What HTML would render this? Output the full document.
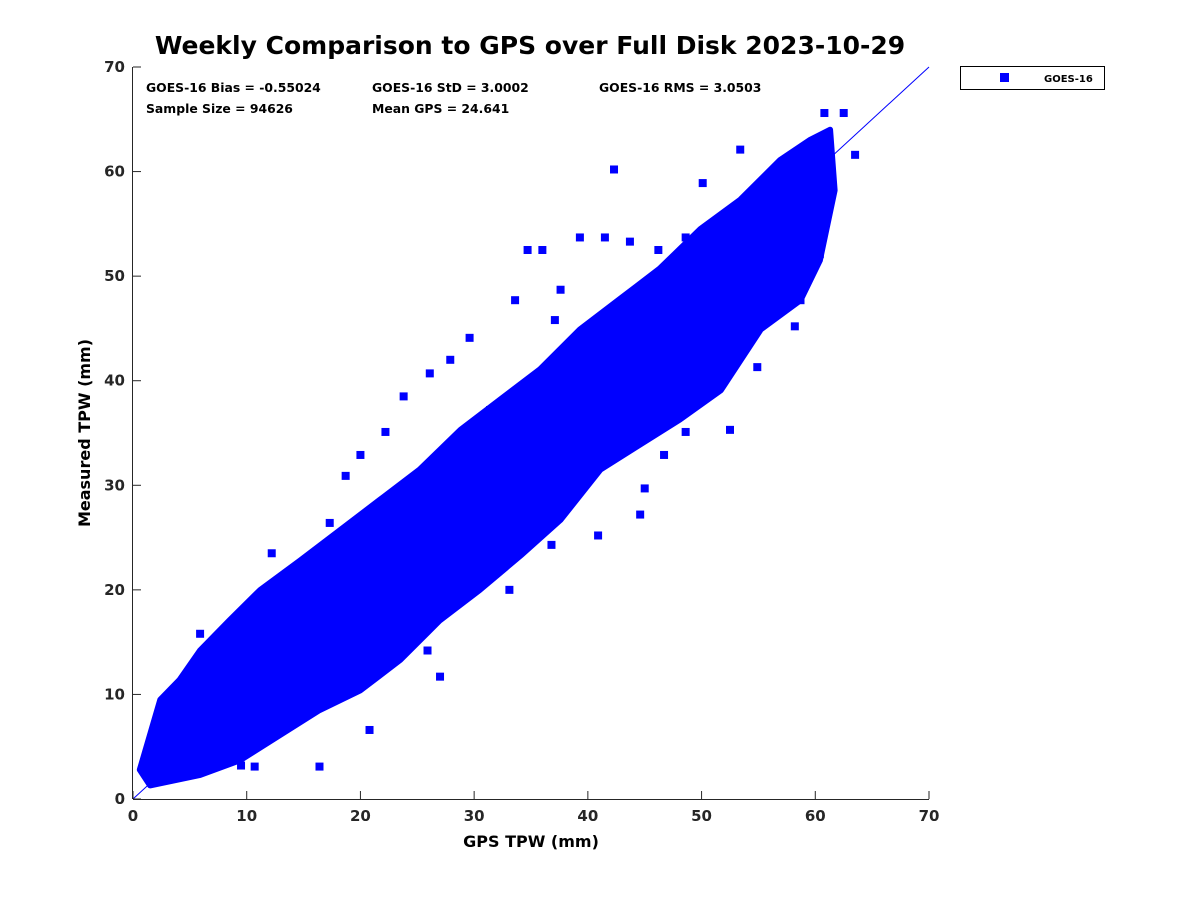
<!DOCTYPE html>
<html><head><meta charset="utf-8"><style>
html,body{margin:0;padding:0;background:#fff;}
svg{display:block;font-family:"DejaVu Sans","Liberation Sans",sans-serif;}
</style></head><body>
<svg id="chart" width="1200" height="900" viewBox="0 0 1200 900">
<rect x="0" y="0" width="1200" height="900" fill="#fff"/>
<text x="530" y="54" text-anchor="middle" font-size="25" font-weight="bold">Weekly Comparison to GPS over Full Disk 2023-10-29</text>
<g id="marks"></g>
<g id="axes"></g>
<g font-size="12.4" font-weight="bold">
<text x="146" y="92">GOES-16 Bias = -0.55024</text>
<text x="372" y="92">GOES-16 StD = 3.0002</text>
<text x="599" y="92">GOES-16 RMS = 3.0503</text>
<text x="146" y="113">Sample Size = 94626</text>
<text x="372" y="113">Mean GPS = 24.641</text>
</g>
<g>
<rect x="960.5" y="66.5" width="144" height="23" fill="#fff" stroke="#000" stroke-width="1"/>
<rect x="1000" y="73" width="9" height="9" fill="#0000ff"/>
<text x="1044" y="82" font-size="10" font-weight="bold">GOES-16</text>
</g>
<text x="531" y="847" text-anchor="middle" font-size="16" font-weight="bold">GPS TPW (mm)</text>
<text transform="translate(90,433) rotate(-90)" text-anchor="middle" font-size="16" font-weight="bold">Measured TPW (mm)</text>
</svg>
<script>
// Upper edge of the dense point cloud (GPS value, measured value)
const upX = [0.6, 2.4, 4.1, 5.9, 8.5, 11.2, 14.7, 18.2, 21.7, 25.2, 28.8, 32.3, 35.8, 39.3, 42.8, 46.3, 49.9, 53.4, 56.9, 59.5, 61.3];
const upY = [2.8, 9.5, 11.4, 14.2, 17.1, 20, 22.8, 25.7, 28.6, 31.5, 35.3, 38.2, 41.1, 44.9, 47.8, 50.7, 54.5, 57.3, 61.1, 63, 64];
// Lower edge of the dense point cloud
const lowX = [1.5, 5.9, 9.4, 12.9, 16.4, 20, 23.5, 27, 30.5, 34.1, 37.6, 41.1, 44.6, 48.1, 51.7, 55.2, 58.7, 60.4, 61.7];
const lowY = [1.3, 2.3, 3.7, 6.1, 8.5, 10.4, 13.3, 17.1, 20, 23.3, 26.7, 31.5, 33.9, 36.3, 39.1, 44.9, 47.7, 51.5, 58.2];
// Outlier points
const outX = [42.3,34.7,36.0,39.3,41.5,43.7,33.6,29.6,27.9,26.1,23.8,22.2,20.0,18.7,17.3,12.2,5.9,10.7,9.5,16.4,20.8,25.9,27.0,33.1,36.8,40.9,44.6,45.0,46.7,48.6,51.4,54.9,58.2,60.4,58.7,61.1,63.5,62.5,60.8,53.4,50.1,48.6,46.2,37.6,38.9,52.5,41.1,31.4,37.1];
const outY = [60.2,52.5,52.5,53.7,53.7,53.3,47.7,44.1,42.0,40.7,38.5,35.1,32.9,30.9,26.4,23.5,15.8,3.1,3.2,3.1,6.6,14.2,11.7,20.0,24.3,25.2,27.2,29.7,32.9,35.1,39.3,41.3,45.2,52.1,47.7,56.2,61.6,65.6,65.6,62.1,58.9,53.7,52.5,48.7,40.1,35.3,42.0,37.2,45.8];

const x0=133,x1=929,y0=799,y1=67;
const sx=v=>x0+(v/70)*(x1-x0);
const sy=v=>y0-(v/70)*(y0-y1);
const NS="http://www.w3.org/2000/svg";
const marks=document.getElementById('marks');
const axes=document.getElementById('axes');

let pts=upX.map((x,i)=>sx(x)+','+sy(upY[i]));
for(let i=lowX.length-1;i>=0;i--) pts.push(sx(lowX[i])+','+sy(lowY[i]));
const poly=document.createElementNS(NS,'polygon');
poly.setAttribute('points',pts.join(' '));
poly.setAttribute('fill','#0000ff');
poly.setAttribute('stroke','#0000ff');
poly.setAttribute('stroke-width','6');
poly.setAttribute('stroke-linejoin','round');


marks.appendChild(poly);

outX.forEach((x,i)=>{
  const r=document.createElementNS(NS,'rect');
  r.setAttribute('x',sx(x)-4);r.setAttribute('y',sy(outY[i])-4);
  r.setAttribute('width',8);r.setAttribute('height',8);
  r.setAttribute('fill','#0000ff');
  
  
  marks.appendChild(r);
});

const diag=document.createElementNS(NS,'line');
diag.setAttribute('x1',sx(0));diag.setAttribute('y1',sy(0));
diag.setAttribute('x2',sx(70));diag.setAttribute('y2',sy(70));
diag.setAttribute('stroke','#0000ff');diag.setAttribute('stroke-width','1');


marks.appendChild(diag);

const ticks=[0,10,20,30,40,50,60,70];
function line(a,b,c,d){const l=document.createElementNS(NS,'line');l.setAttribute('x1',a);l.setAttribute('y1',b);l.setAttribute('x2',c);l.setAttribute('y2',d);l.setAttribute('stroke','#262626');l.setAttribute('stroke-width','1');return l;}
const xa=line(x0,y0+0.5,x1,y0+0.5);


axes.appendChild(xa);
const ya=line(x0-0.5,y0,x0-0.5,y1);


axes.appendChild(ya);
ticks.forEach(t=>{
  const a=line(sx(t),y0,sx(t),y0-8);
  
  
  axes.appendChild(a);
  const b=line(x0,sy(t),x0+8,sy(t));
  
  
  axes.appendChild(b);
  const tx=document.createElementNS(NS,'text');
  tx.setAttribute('x',sx(t));tx.setAttribute('y',y0+22);tx.setAttribute('text-anchor','middle');
  tx.setAttribute('font-size','15');tx.setAttribute('font-weight','bold');tx.setAttribute('fill','#262626');
  tx.textContent=t;
  
  
  axes.appendChild(tx);
  const ty=document.createElementNS(NS,'text');
  ty.setAttribute('x',x0-8);ty.setAttribute('y',sy(t)+5);ty.setAttribute('text-anchor','end');
  ty.setAttribute('font-size','15');ty.setAttribute('font-weight','bold');ty.setAttribute('fill','#262626');
  ty.textContent=t;
  
  
  axes.appendChild(ty);
});
</script>
</body></html>
